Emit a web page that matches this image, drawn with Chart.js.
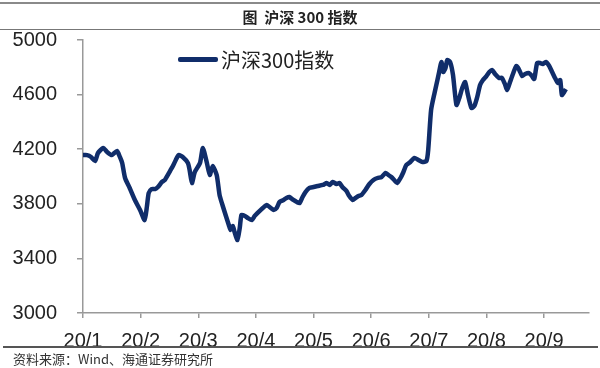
<!DOCTYPE html>
<html>
<head>
<meta charset="utf-8">
<script src="https://cdn.jsdelivr.net/npm/chart.js@4.4.1/dist/chart.umd.min.js"></script>
<style>
  body { margin:0; background:#fff; }
  #page { position:relative; width:600px; height:368px; overflow:hidden; font-family:"Liberation Sans", Arial, sans-serif; }
  #chartBox { position:absolute; left:0; top:0; width:600px; height:368px; }
  .rule { position:absolute; left:0; width:600px; background:#8a8a8a; }
</style>
</head>
<body>
<div id="page">
  <div id="chartBox"><canvas id="c"></canvas></div>

  <!-- title block -->
  <div class="rule" style="top:2px;height:2px"></div>
  <div style="position:absolute;left:0;top:6px;width:600px;text-align:center;font:bold 15px 'Noto Sans CJK SC',sans-serif;color:#222">图&nbsp;&nbsp;沪深 300 指数</div>
  <div class="rule" style="top:29px;height:1px;background:#777"></div>

  <!-- legend -->
  <div style="position:absolute;left:178px;top:45px;display:flex;align-items:center">
    <span style="display:inline-block;width:40px;height:5px;background:#102d6a;border-radius:2px"></span>
    <span style="margin-left:3px;font:20px 'Noto Sans CJK SC',sans-serif;color:#222">沪深300指数</span>
  </div>

  <!-- source -->
  <div class="rule" style="top:346px;left:3px;width:595px;height:1.5px;background:#555"></div>
  <div style="position:absolute;left:13px;top:349px;font:13px 'Noto Sans CJK SC',sans-serif;color:#333">资料来源：Wind、海通证券研究所</div>
</div>

<script>
// x position in months since 2020-01-01 (0 = 20/1)
const months = [
  0.00, 0.07, 0.14, 0.21, 0.26, 0.35, 0.42, 0.50, 0.59, 0.64, 0.68, 0.73, 0.81, 0.90, 0.99,
  1.07, 1.11, 1.14, 1.19, 1.25, 1.30, 1.37, 1.42, 1.45, 1.51, 1.56, 1.61, 1.66, 1.73, 1.82,
  1.85, 1.89, 1.94, 2.03, 2.08, 2.15, 2.20, 2.25, 2.32, 2.37, 2.42, 2.48, 2.53, 2.56, 2.60,
  2.63, 2.68, 2.72, 2.75, 2.81, 2.86, 2.93, 2.98, 3.03, 3.12, 3.19, 3.26, 3.31, 3.36, 3.41,
  3.48, 3.53, 3.58, 3.65, 3.71, 3.76, 3.81, 3.86, 3.93, 4.00, 4.07, 4.16, 4.23, 4.28, 4.33,
  4.40, 4.45, 4.50, 4.57, 4.62, 4.68, 4.73, 4.78, 4.83, 4.90, 4.97, 5.04, 5.11, 5.18, 5.25,
  5.30, 5.35, 5.40, 5.45, 5.51, 5.56, 5.61, 5.68, 5.75, 5.82, 5.89, 5.96, 5.99, 6.04, 6.10,
  6.15, 6.18, 6.22, 6.25, 6.29, 6.32, 6.37, 6.42, 6.48, 6.53, 6.58, 6.63, 6.68, 6.74, 6.79,
  6.84, 6.89, 6.94, 7.00, 7.05, 7.10, 7.15, 7.22, 7.27, 7.32, 7.36, 7.41, 7.46, 7.52, 7.57,
  7.62, 7.67, 7.74, 7.79, 7.83, 7.88, 7.93, 7.98, 8.03, 8.09, 8.14, 8.19, 8.24, 8.28, 8.31,
  8.35, 8.38
];

// 沪深300指数 close
const hs300 = [
  4157, 4157, 4143, 4114, 4172, 4209, 4179, 4157, 4187, 4143, 4099, 3989, 3916, 3828, 3755,
  3681, 3784, 3879, 3908, 3908, 3923, 3960, 3974, 3996, 4040, 4077, 4121, 4157, 4143, 4099,
  4048, 3952, 4033, 4099, 4209, 4099, 4011, 4077, 4011, 3864, 3791, 3711, 3645, 3608, 3637,
  3593, 3535, 3623, 3718, 3711, 3696, 3681, 3711, 3733, 3769, 3791, 3769, 3755, 3769, 3813,
  3828, 3843, 3850, 3828, 3813, 3806, 3850, 3886, 3916, 3923, 3930, 3938, 3952, 3938, 3960,
  3945, 3952, 3923, 3894, 3857, 3828, 3843, 3857, 3864, 3901, 3945, 3974, 3989, 3996, 4026,
  4011, 3996, 3974, 3952, 3989, 4033, 4084, 4106, 4136, 4121, 4106, 4114, 4194, 4487, 4612,
  4707, 4766, 4839, 4766, 4795, 4853, 4839, 4744, 4524, 4575, 4648, 4692, 4597, 4502, 4516,
  4582, 4670, 4707, 4736, 4766, 4780, 4751, 4722, 4722, 4678, 4634, 4692, 4751, 4810, 4780,
  4736, 4751, 4758, 4736, 4714, 4832, 4832, 4824, 4839, 4810, 4766, 4722, 4685, 4707, 4597,
  4619, 4641
];

const xLabels = ['20/1', '20/2', '20/3', '20/4', '20/5', '20/6', '20/7', '20/8', '20/9'];
const yMin = 3000, yMax = 5000, yStep = 400;

const axisGray = '#999';
const tickFont = { family: "'Liberation Sans', Arial, sans-serif", size: 20 };

new Chart(document.getElementById('c'), {
  type: 'line',
  data: {
    datasets: [{
      label: '沪深300指数',
      data: months.map((m, i) => ({ x: m, y: hs300[i] })),
      borderColor: '#102d6a',
      borderWidth: 4.5,
      pointRadius: 0,
      tension: 0.2,
      fill: false,
    }],
  },
  options: {
    responsive: true,
    maintainAspectRatio: false,
    animation: false,
    layout: { padding: { top: 40, right: 11, left: 0, bottom: 0 } },
    plugins: { legend: { display: false }, tooltip: { enabled: false } },
    scales: {
      x: {
        type: 'linear',
        min: 0,
        max: 8.78,
        afterBuildTicks: axis => { axis.ticks = xLabels.map((_, i) => ({ value: i })); },
        afterFit: s => { s.height = 55; },
        grid: { drawOnChartArea: false, drawTicks: true, tickLength: 5, color: axisGray, lineWidth: 1.5 },
        border: { display: true, color: axisGray, width: 1.5 },
        ticks: {
          autoSkip: false,
          maxRotation: 0,
          padding: 11,
          color: '#222',
          font: tickFont,
          callback: v => xLabels[v],
        },
      },
      y: {
        min: yMin,
        max: yMax,
        afterFit: s => { s.width = 83; },
        grid: { drawOnChartArea: false, drawTicks: true, tickLength: 6, color: axisGray, lineWidth: 1.5 },
        border: { display: true, color: axisGray, width: 1.5 },
        ticks: { stepSize: yStep, padding: 20, color: '#222', font: tickFont, callback: v => String(v) },
      },
    },
  },
});
</script>
</body>
</html>
